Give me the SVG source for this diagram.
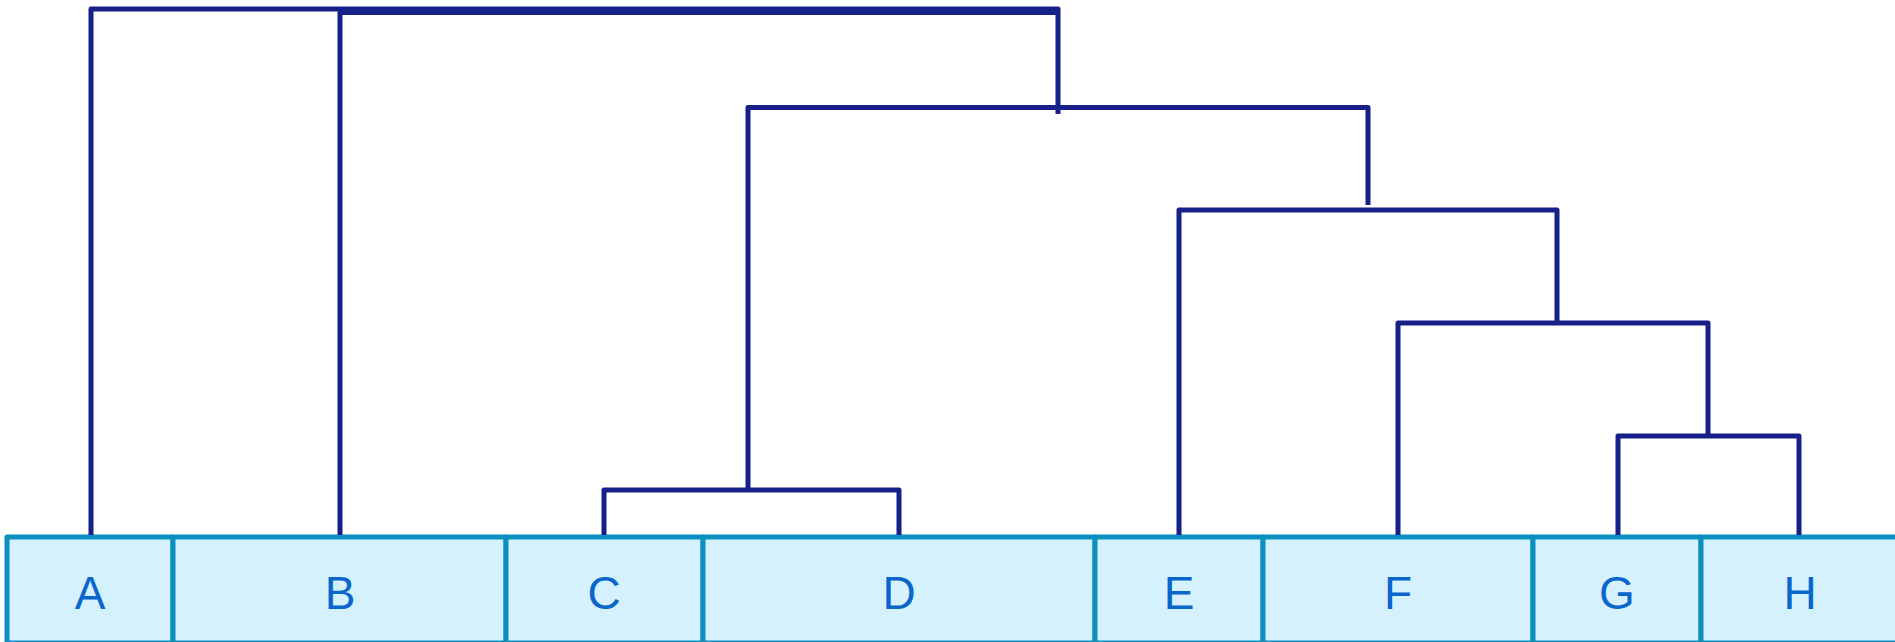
<svg xmlns="http://www.w3.org/2000/svg" width="1895" height="642" viewBox="0 0 1895 642">
  <style>
    .leaf rect { fill: #d4f1fd; stroke: #0a90c0; stroke-width: 5; stroke-linejoin: round; }
    .leaf text { font-family: "Liberation Sans", Arial, sans-serif; font-size: 46px; fill: #0b66cc; text-anchor: middle; }
    .link { fill: none; stroke: #172088; stroke-width: 5; stroke-linejoin: round; stroke-linecap: butt; }
  </style>
  <rect x="0" y="0" width="1895" height="642" fill="#ffffff"/>

  <!-- leaf row -->
  <g id="leaf-A" class="leaf"><rect x="7" y="537" width="166" height="106"/><text x="90" y="609">A</text></g>
  <g id="leaf-B" class="leaf"><rect x="173" y="537" width="333" height="106"/><text x="340" y="609">B</text></g>
  <g id="leaf-C" class="leaf"><rect x="506" y="537" width="197" height="106"/><text x="604" y="609">C</text></g>
  <g id="leaf-D" class="leaf"><rect x="703" y="537" width="392" height="106"/><text x="899" y="609">D</text></g>
  <g id="leaf-E" class="leaf"><rect x="1095" y="537" width="168" height="106"/><text x="1179" y="609">E</text></g>
  <g id="leaf-F" class="leaf"><rect x="1263" y="537" width="270" height="106"/><text x="1398" y="609">F</text></g>
  <g id="leaf-G" class="leaf"><rect x="1533" y="537" width="168" height="106"/><text x="1617" y="609">G</text></g>
  <g id="leaf-H" class="leaf"><rect x="1701" y="537" width="200" height="106"/><text x="1800" y="609">H</text></g>

  <!-- merge links -->
  <g id="links">
    <path class="link" d="M91,535 V9 H1058 V114"/>
    <path class="link" d="M340,535 V12.5 H1058"/>
    <path class="link" d="M748,490 V107.5 H1368 V205"/>
    <path class="link" d="M604,535 V490 H899 V535"/>
    <path class="link" d="M1179,535 V210 H1557 V325"/>
    <path class="link" d="M1398,535 V323 H1708 V436"/>
    <path class="link" d="M1618,535 V436 H1799 V535"/>
  </g>
</svg>
